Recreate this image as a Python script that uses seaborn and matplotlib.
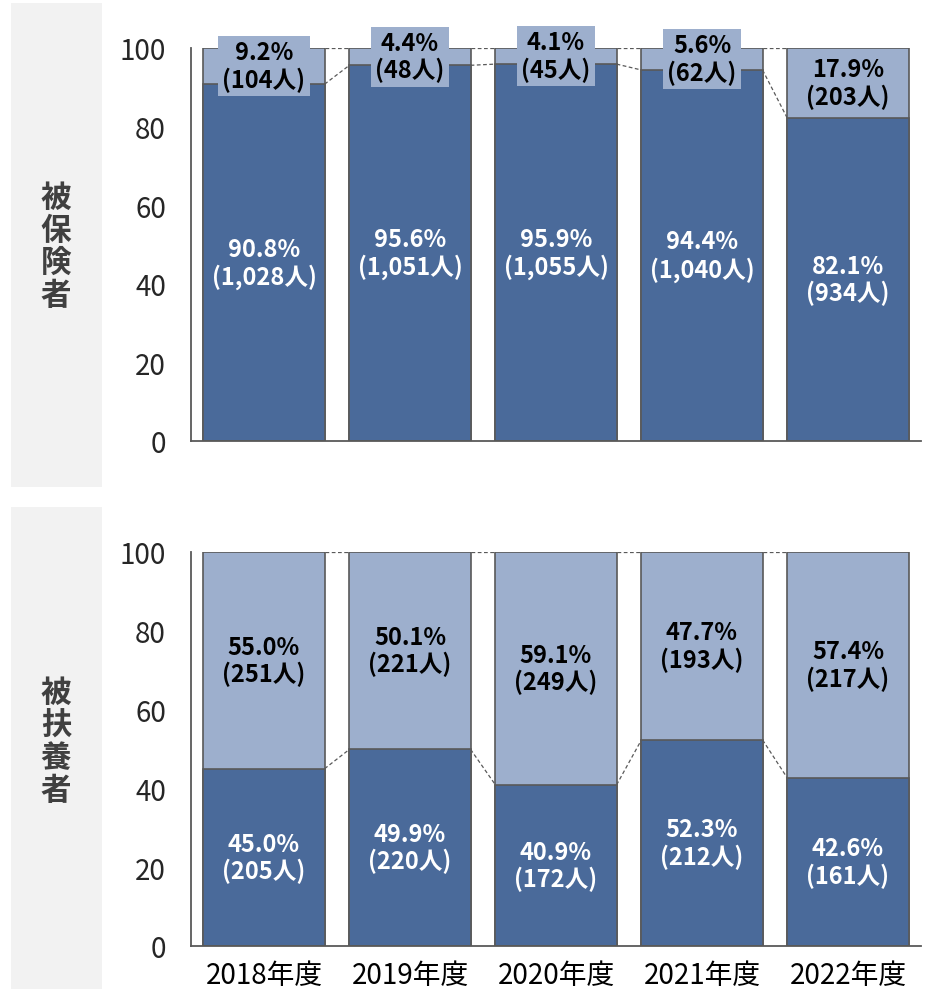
import matplotlib
matplotlib.use("Agg")
import matplotlib.pyplot as plt
from matplotlib.patches import Rectangle
import pandas as pd
import seaborn as sns

years = ["2018年度", "2019年度", "2020年度", "2021年度", "2022年度"]

# 被保険者
ins_main_pct = [90.8, 95.6, 95.9, 94.4, 82.1]
ins_main_n = [1028, 1051, 1055, 1040, 934]
ins_other_pct = [9.2, 4.4, 4.1, 5.6, 17.9]
ins_other_n = [104, 48, 45, 62, 203]

# 被扶養者
dep_main_pct = [45.0, 49.9, 40.9, 52.3, 42.6]
dep_main_n = [205, 220, 172, 212, 161]
dep_other_pct = [55.0, 50.1, 59.1, 47.7, 57.4]
dep_other_n = [251, 221, 249, 193, 217]

DARK = "#4a6a9a"
LIGHT = "#9dafcd"
GRID = "#595959"
BAR_W = 0.83

sns.set_style("white")
plt.rcParams['font.family'] = ['Noto Sans CJK JP', 'DejaVu Sans']


def draw_panel(ax, main_pct, main_n, other_pct, other_n, boxed_small):
	df = pd.DataFrame({
		"year": years,
		"main": main_pct,
		"total": [a + b for a, b in zip(main_pct, other_pct)],
	})
	sns.barplot(data=df, x="year", y="total", color=LIGHT, saturation=1,
				width=BAR_W, edgecolor=GRID, linewidth=1.2, ax=ax, zorder=2)
	sns.barplot(data=df, x="year", y="main", color=DARK, saturation=1,
				width=BAR_W, edgecolor=GRID, linewidth=1.2, ax=ax, zorder=2)

	# dashed connectors between bars
	half = BAR_W / 2
	for i in range(len(years) - 1):
		ax.plot([i + half, i + 1 - half], [main_pct[i], main_pct[i + 1]],
				ls=(0, (3, 2)), color=GRID, lw=0.9, zorder=1)
		ax.plot([i + half, i + 1 - half], [df.total[i], df.total[i + 1]],
				ls=(0, (3, 2)), color=GRID, lw=0.9, zorder=1)

	for i in range(len(years)):
		ax.text(i, main_pct[i] / 2, f"{main_pct[i]:.1f}%\n({main_n[i]:,}人)",
				ha="center", va="center", color="white", fontsize=17,
				fontweight="bold", linespacing=1.12, zorder=5)
		box = None
		if boxed_small and other_pct[i] < 10:
			box = dict(boxstyle="square,pad=0.18", fc=LIGHT, ec="none")
		ax.text(i, main_pct[i] + other_pct[i] / 2,
				f"{other_pct[i]:.1f}%\n({other_n[i]:,}人)",
				ha="center", va="center", color="black", fontsize=17,
				fontweight="bold", linespacing=1.12, bbox=box, zorder=6,
				clip_on=False)

	ax.set_xlim(-0.5, len(years) - 0.5)
	ax.set_ylim(0, 100)
	ax.set_yticks([0, 20, 40, 60, 80, 100])
	ax.set_xlabel("")
	ax.set_ylabel("")
	ax.set_xticks(range(len(years)))
	ax.set_xticks([i - 0.5 for i in range(len(years) + 1)], minor=True)
	ax.tick_params(axis="x", which="major", length=0, labelsize=20, pad=10, colors="black")
	ax.tick_params(axis="x", which="minor", length=7, width=1.3, color=GRID)
	ax.tick_params(axis="y", length=7, width=1.3, color=GRID, labelsize=20, pad=11)
	for s in ["top", "right"]:
		ax.spines[s].set_visible(False)
	for s in ["left", "bottom"]:
		ax.spines[s].set_color(GRID)
		ax.spines[s].set_linewidth(1.3)


fig = plt.figure(figsize=(9.3, 9.95), dpi=100)

# gray side panels
fig.add_artist(Rectangle((11 / 930, 1 - 488 / 995), 91 / 930, 484 / 995,
						 transform=fig.transFigure, fc="#f2f2f2", ec="none", zorder=0))
fig.add_artist(Rectangle((11 / 930, 1 - 990 / 995), 91 / 930, 482 / 995,
						 transform=fig.transFigure, fc="#f2f2f2", ec="none", zorder=0))

ax1 = fig.add_axes([191 / 930, 1 - 442 / 995, 730 / 930, 393 / 995])
ax2 = fig.add_axes([191 / 930, 1 - 947 / 995, 730 / 930, 394 / 995])

draw_panel(ax1, ins_main_pct, ins_main_n, ins_other_pct, ins_other_n, True)
draw_panel(ax2, dep_main_pct, dep_main_n, dep_other_pct, dep_other_n, False)
ax1.set_xticklabels([])

fig.text(56 / 930, 1 - 247 / 995, "被\n保\n険\n者", ha="center", va="center",
		 fontsize=22, fontweight="bold", color="#404040", linespacing=1.02)
fig.text(56 / 930, 1 - 742 / 995, "被\n扶\n養\n者", ha="center", va="center",
		 fontsize=22, fontweight="bold", color="#404040", linespacing=1.02)

fig.savefig("out.png", dpi=100)
